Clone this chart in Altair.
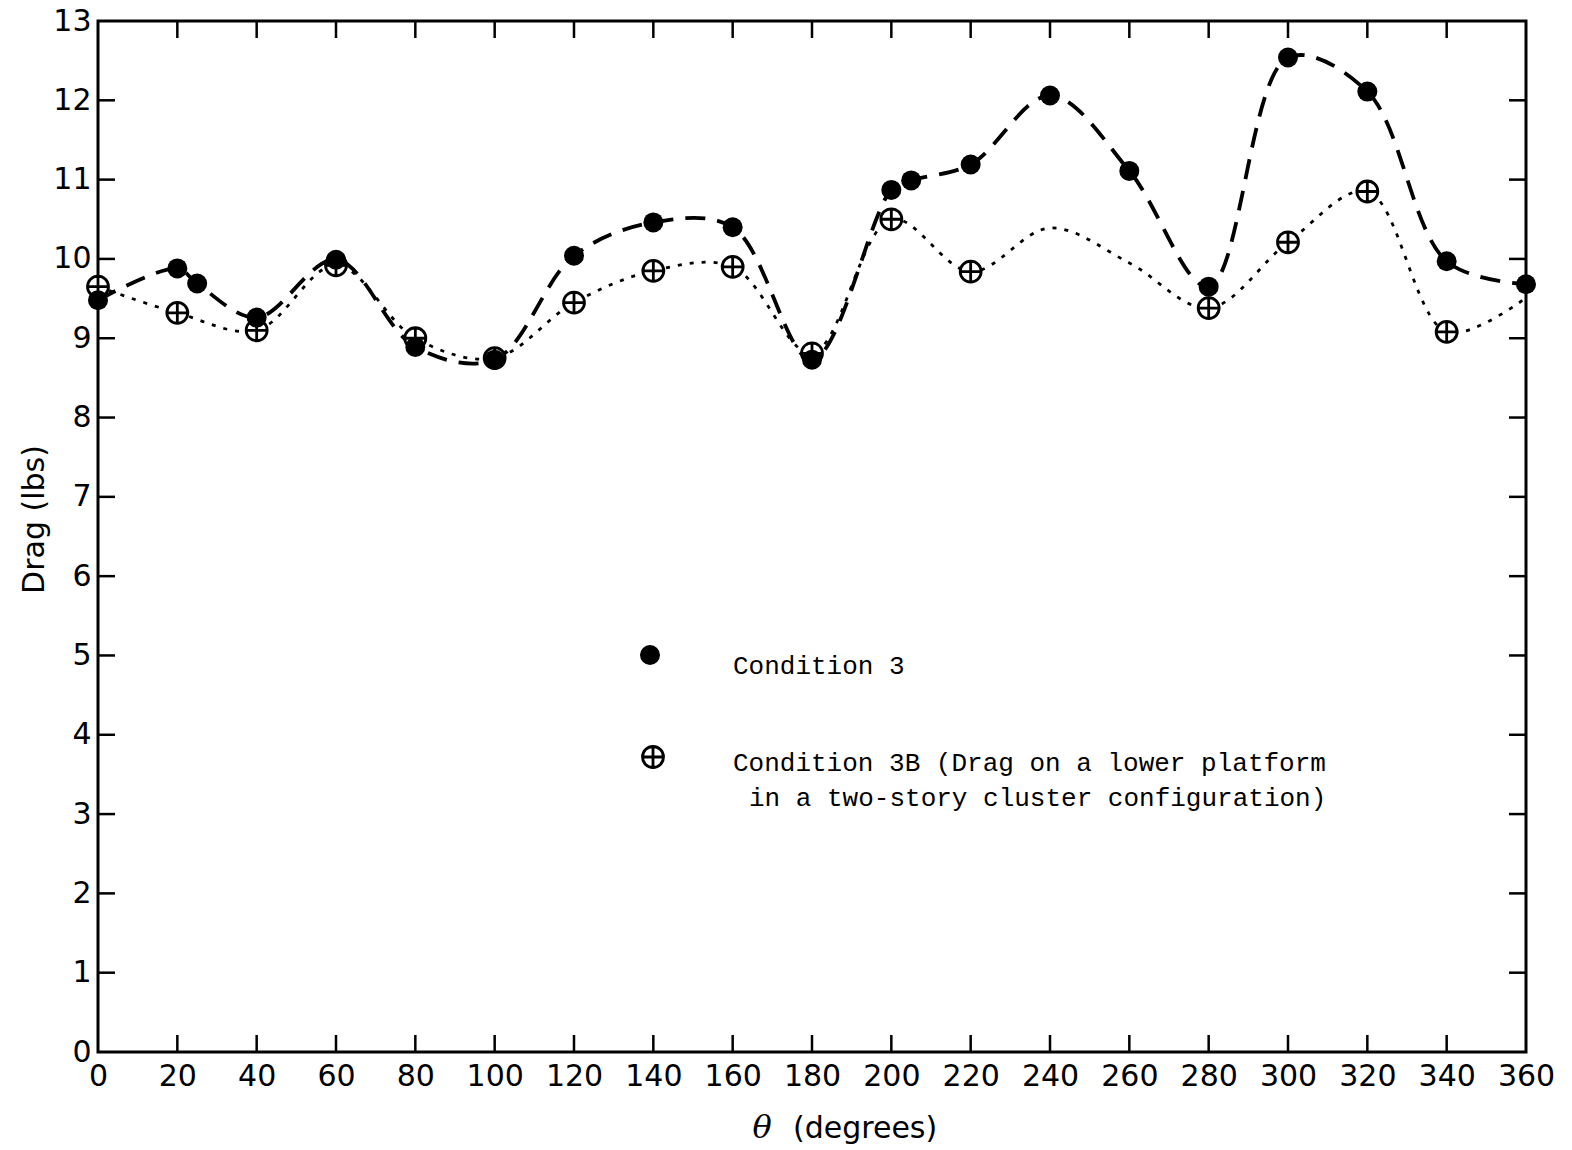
import altair as alt
import pandas as pd

# Condition 3: drag on the platform (filled circles, dashed curve)
theta_c3 = [0, 20, 25, 40, 60, 80, 100, 120, 140, 160, 180, 200, 205, 220,
            240, 260, 280, 300, 320, 340, 360]
drag_c3 = [9.48, 9.88, 9.69, 9.26, 9.99, 8.89, 8.73, 10.04, 10.46, 10.40, 8.73,
           10.87, 10.99, 11.19, 12.06, 11.11, 9.65, 12.54, 12.11, 9.97, 9.68]

# Condition 3B: drag on a lower platform, two-story cluster (crossed circles, dotted curve)
theta_3b = [0, 20, 40, 60, 80, 100, 120, 140, 160, 180, 200, 220, 240, 260,
            280, 300, 320, 340, 360]
drag_3b = [9.65, 9.32, 9.10, 9.92, 9.00, 8.75, 9.45, 9.85, 9.90, 8.81, 10.50,
           9.84, 10.39, 9.95, 9.38, 10.21, 10.85, 9.08, 9.51]
# measured points carry a symbol; the rest are readings of the faired curve
measured_3b = [True, True, True, True, True, True, True, True, True, True, True,
               True, False, False, True, True, True, True, False]

x_ticks = list(range(20, 360, 20))
y_ticks = list(range(1, 13))
x_labels = list(range(0, 361, 20))
y_labels = list(range(0, 14))

W, H = 1428, 1031
TICK = 17
INK = "black"

c3 = pd.DataFrame({"theta": theta_c3, "drag": drag_c3})
b3 = pd.DataFrame({"theta": theta_3b, "drag": drag_3b, "measured": measured_3b})

xs = alt.Scale(domain=[0, 360], nice=False, zero=False)
ys = alt.Scale(domain=[0, 13], nice=False, zero=False)

CROSSED = "M-1,0 A1,1 0 1,0 1,0 A1,1 0 1,0 -1,0 Z M-1,0 L1,0 M0,-1 L0,1"

x_axis = alt.Axis(values=x_labels, title=None, labelFont="DejaVu Sans",
                  labelFontSize=30, labelColor=INK, labelPadding=9,
                  ticks=False, domain=False, grid=False, labelFlush=False)
y_axis = alt.Axis(values=y_labels, title="Drag (lbs)", labelFont="DejaVu Sans",
                  labelFontSize=30, labelColor=INK, labelPadding=7,
                  ticks=False, domain=False, grid=False, labelFlush=False,
                  titleFont="DejaVu Sans", titleFontSize=30,
                  titleFontWeight="normal", titleColor=INK,
                  titleX=-64, titleY=498, titleAngle=270,
                  titleAlign="center", titleBaseline="middle")


def X(field):
    return alt.X(field, scale=xs, axis=x_axis)


def Y(field):
    return alt.Y(field, scale=ys, axis=y_axis)


line_c3 = alt.Chart(c3).mark_line(
    color=INK, strokeWidth=3.8, strokeDash=[20, 12], interpolate="catmull-rom"
).encode(x=X("theta:Q"), y=Y("drag:Q"))

line_3b = alt.Chart(b3).mark_line(
    color=INK, strokeWidth=2.8, strokeDash=[4, 8], interpolate="catmull-rom"
).encode(x=X("theta:Q"), y=Y("drag:Q"))

pts_3b = alt.Chart(b3).transform_filter("datum.measured").mark_point(
    shape=CROSSED, size=440, filled=False, fill="white", fillOpacity=1,
    stroke=INK, strokeWidth=2.8, opacity=1
).encode(x=X("theta:Q"), y=Y("drag:Q"))

pts_c3 = alt.Chart(c3).mark_circle(size=400, color=INK, opacity=1).encode(
    x=X("theta:Q"), y=Y("drag:Q"))

# inward-pointing ticks on all four sides
yt = pd.DataFrame({"drag": y_ticks})
xt = pd.DataFrame({"theta": x_ticks})
tick_style = dict(color=INK, strokeWidth=2.5)
left_ticks = alt.Chart(yt).mark_rule(**tick_style).encode(
    y=Y("drag:Q"), x=alt.value(0), x2=alt.value(TICK))
right_ticks = alt.Chart(yt).mark_rule(**tick_style).encode(
    y=Y("drag:Q"), x=alt.value(W), x2=alt.value(W - TICK))
bottom_ticks = alt.Chart(xt).mark_rule(**tick_style).encode(
    x=X("theta:Q"), y=alt.value(H), y2=alt.value(H - TICK))
top_ticks = alt.Chart(xt).mark_rule(**tick_style).encode(
    x=X("theta:Q"), y=alt.value(0), y2=alt.value(TICK))

one = alt.Data(values=[{}])

# key
key_c3 = alt.Chart(one).mark_circle(size=400, color=INK, opacity=1).encode(
    x=alt.value(552), y=alt.value(634))
key_3b = alt.Chart(one).mark_point(
    shape=CROSSED, size=440, filled=False, fill="white", fillOpacity=1,
    stroke=INK, strokeWidth=2.8, opacity=1).encode(x=alt.value(555), y=alt.value(736))
key_font = dict(font="Liberation Mono", fontSize=26, color=INK, align="left",
                baseline="alphabetic")
key_t1 = alt.Chart(one).mark_text(text="Condition 3", **key_font).encode(
    x=alt.value(635), y=alt.value(653))
key_t2 = alt.Chart(one).mark_text(
    text="Condition 3B (Drag on a lower platform", **key_font).encode(
    x=alt.value(635), y=alt.value(750))
key_t3 = alt.Chart(one).mark_text(
    text="in a two-story cluster configuration)", **key_font).encode(
    x=alt.value(651), y=alt.value(785))

# x-axis title: italic theta followed by the unit
xt_theta = alt.Chart(one).mark_text(
    text="θ", font="DejaVu Serif", fontStyle="italic", fontSize=32, color=INK,
    align="center", baseline="alphabetic").encode(x=alt.value(664), y=alt.value(H + 86))
xt_unit = alt.Chart(one).mark_text(
    text="(degrees)", font="DejaVu Sans", fontSize=30, color=INK,
    align="left", baseline="alphabetic").encode(x=alt.value(695), y=alt.value(H + 86))

chart = alt.layer(
    line_c3, line_3b, pts_3b, pts_c3,
    left_ticks, right_ticks, bottom_ticks, top_ticks,
    key_c3, key_3b, key_t1, key_t2, key_t3, xt_theta, xt_unit
).properties(
    width=W, height=H,
    autosize=alt.AutoSizeParams(type="none"),
    padding={"left": 98, "top": 21, "right": 46, "bottom": 98},
    background="white",
).configure_view(
    stroke=INK, strokeWidth=3
)

chart.save("out.html", embed_options={"renderer": "svg", "actions": False})
